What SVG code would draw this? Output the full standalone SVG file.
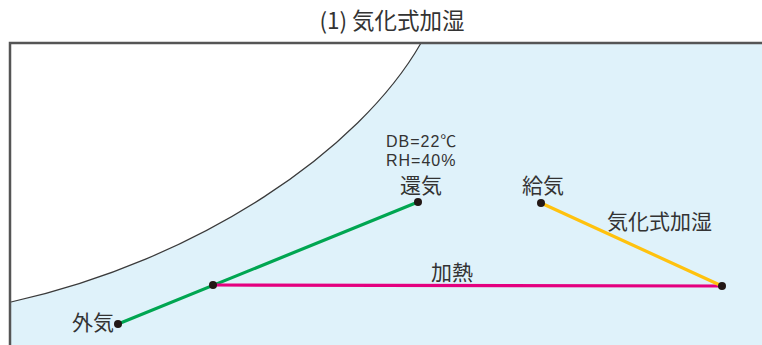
<svg xmlns="http://www.w3.org/2000/svg" width="762" height="345" viewBox="0 0 762 345">
<style>
.t{font-family:"Noto Sans CJK JP","Liberation Sans",sans-serif;fill:#333;}
.lab{font-size:21px;}
.num{font-family:"Liberation Sans","Noto Sans CJK JP",sans-serif;font-size:16px;letter-spacing:1px;fill:#333;}
.ln{fill:none;stroke-width:3.2;stroke-linecap:round;}
.dot{fill:#231815;}
</style>
<rect x="0" y="0" width="762" height="345" fill="#fff"/>
<g id="chart">
<path d="M421,43 C360,150 200,260 11,302 L11,345 L762,345 L762,43 Z" fill="#dff2fa"/>
<path d="M421,43 C360,150 200,260 11,302" fill="none" stroke="#3a3a3a" stroke-width="1.2"/>
<path d="M10,345 L10,43 L762,43" fill="none" stroke="#555" stroke-width="2.5"/>
</g>
<text class="t" x="392" y="29" font-size="22.5" text-anchor="middle">(1) 気化式加湿</text>
<g id="connectors">
<line class="ln" x1="118" y1="324" x2="418" y2="202" stroke="#00a651"/>
<line class="ln" x1="213" y1="285" x2="722" y2="286" stroke="#e4007f"/>
<line class="ln" x1="541" y1="203" x2="722" y2="286" stroke="#ffc20e"/>
</g>
<g id="outside"><circle class="dot" cx="118" cy="324" r="4"/><text class="t lab" x="72" y="330">外気</text></g>
<g id="mix"><circle class="dot" cx="213" cy="285" r="4"/></g>
<g id="return"><circle class="dot" cx="418" cy="202" r="4"/>
<text class="num" x="386" y="147">DB=22℃</text>
<text class="num" x="386" y="166">RH=40%</text>
<text class="t lab" x="400" y="193">還気</text></g>
<g id="supply"><circle class="dot" cx="541" cy="203" r="4"/><text class="t lab" x="522" y="193">給気</text></g>
<g id="heated"><circle class="dot" cx="722" cy="286" r="4"/></g>
<text class="t lab" x="607" y="229">気化式加湿</text>
<text class="t lab" x="431" y="280">加熱</text>
</svg>
